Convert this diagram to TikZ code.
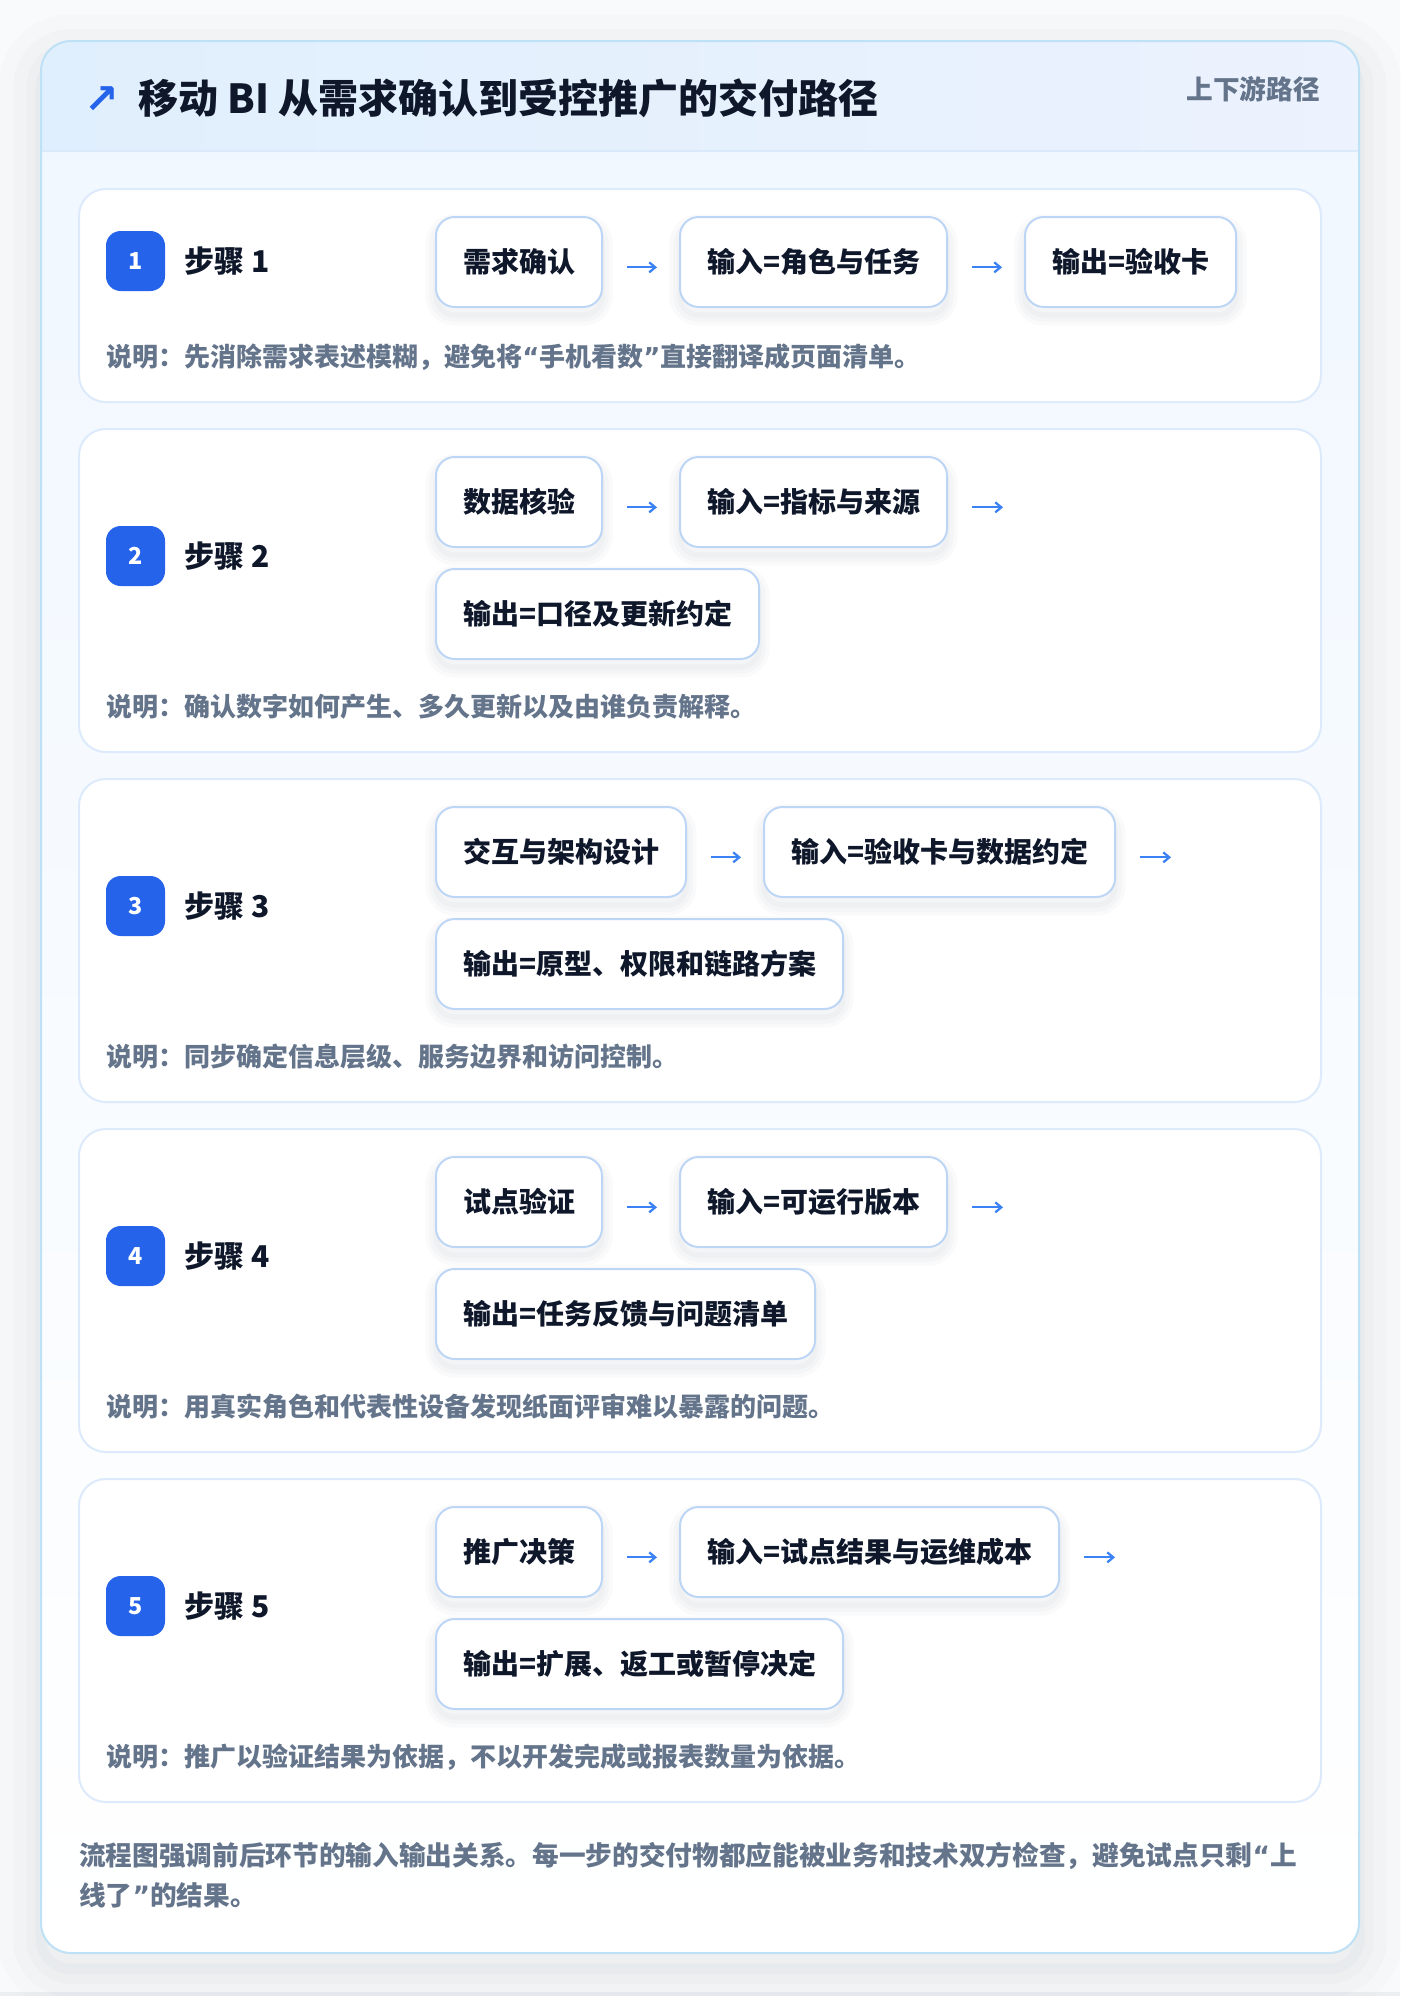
\documentclass[tikz,border=0pt]{standalone}
\usepackage{fontspec}
\setmainfont{Noto Sans CJK SC}
\newfontfamily\arrowfont{DejaVu Sans}
\usetikzlibrary{positioning,arrows.meta}

\definecolor{pagebg}{HTML}{F9FAFB}
\definecolor{stripc}{HTML}{ECEEF2}
\definecolor{cardline}{HTML}{BEE1F6}
\definecolor{bodytop}{HTML}{F0F7FF}
\definecolor{headleft}{HTML}{E0EFFD}
\definecolor{headright}{HTML}{ECF2FE}
\definecolor{headline}{HTML}{DAEAFB}
\definecolor{stepline}{HTML}{DCEAFB}
\definecolor{boxline}{HTML}{BED6F5}
\definecolor{badgec}{HTML}{2563EB}
\definecolor{arrowc}{HTML}{3B82F6}
\definecolor{inkc}{HTML}{0F172A}
\definecolor{mutedc}{HTML}{64748B}
\definecolor{shadowc}{HTML}{1E293B}

\newcommand{\q}[1]{{\arrowfont #1}}

\tikzset{
  boxshadow/.style={
    preaction={draw=shadowc, fill=none, draw opacity=0.018, line width=16pt, transform canvas={yshift=-6pt}},
    preaction={draw=shadowc, fill=none, draw opacity=0.022, line width=10pt, transform canvas={yshift=-6pt}},
    preaction={draw=shadowc, fill=none, draw opacity=0.025, line width=4pt, transform canvas={yshift=-6pt}}},
  cardshadow/.style={
    preaction={draw=shadowc, fill=none, draw opacity=0.012, line width=64pt, transform canvas={yshift=-12pt}},
    preaction={draw=shadowc, fill=none, draw opacity=0.016, line width=42pt, transform canvas={yshift=-12pt}},
    preaction={draw=shadowc, fill=none, draw opacity=0.02, line width=22pt, transform canvas={yshift=-12pt}},
    preaction={draw=shadowc, fill=none, draw opacity=0.02, line width=8pt, transform canvas={yshift=-12pt}}},
  stepcard/.style={draw=stepline, line width=1.5pt, fill=white, rounded corners=20pt},
  flowbox/.style={boxshadow, draw=boxline, line width=1.5pt, fill=white, rounded corners=14pt,
    minimum height=67.5pt, inner xsep=20.25pt, inner ysep=0pt, text=inkc,
    font=\fontsize{21pt}{25pt}\selectfont\bfseries},
  flowarrow/.style={draw=arrowc, line width=1.7pt, -{Straight Barb[length=4.5pt,width=7.5pt]},
    shorten <=18pt, shorten >=16.5pt},
  badge/.style={fill=badgec, rounded corners=11pt, minimum width=44.25pt, minimum height=45pt,
    inner sep=0pt, text=white, font=\fontsize{17.5pt}{21pt}\selectfont\bfseries},
  steptitle/.style={inner sep=0pt, text=inkc, font=\fontsize{22.5pt}{27pt}\selectfont\bfseries},
  note/.style={anchor=west, inner sep=0pt, text=mutedc, font=\fontsize{19.5pt}{24pt}\selectfont\bfseries},
}

\begin{document}
\begin{tikzpicture}[x=0.75pt,y=-0.75pt]
        \useasboundingbox (0,0) rectangle (1400,1996);

        % page
        \fill[pagebg] (0,0) rectangle (1400,1996);
        \fill[stripc] (0,1992) rectangle (1400,1996);

        % card
        \fill[white, rounded corners=22.5pt, cardshadow] (41,41) rectangle (1359,1953);
        \shade[top color=bodytop, bottom color=white, rounded corners=22.5pt] (41,41) rectangle (1359,1953);
        \begin{scope}
            \clip[rounded corners=22.5pt] (41,41) rectangle (1359,1953);
            \shade[left color=headleft, right color=headright] (41,41) rectangle (1359,151);
        \end{scope}
        \draw[headline, line width=1.5pt] (41,151) -- (1359,151);
        \draw[cardline, line width=1.5pt, rounded corners=22.5pt] (41,41) rectangle (1359,1953);

        % header
        \node[text=badgec, font=\arrowfont\fontsize{31pt}{36pt}\selectfont\bfseries] (icon) at (102,100) {↗};
        \node[anchor=west, inner sep=0pt, text=inkc, font=\fontsize{30pt}{36pt}\selectfont\bfseries] (title) at (138,98) {移动 BI 从需求确认到受控推广的交付路径};
        \node[anchor=east, inner sep=0pt, text=mutedc, font=\fontsize{20pt}{24pt}\selectfont\bfseries] (tag) at (1320,89) {上下游路径};

        % step 1
        \draw[stepcard] (79,189) rectangle (1321,402);
        \node[badge] (n1) at (135.5,261) {1};
        \node[steptitle, right=14.25pt of n1] (t1) {步骤 1};
        \node[flowbox, anchor=north west] (a1) at (435,216) {需求确认};
        \node[flowbox, right=57pt of a1] (b1) {输入=角色与任务};
        \node[flowbox, right=57pt of b1] (c1) {输出=验收卡};
        \draw[flowarrow] ([yshift=-4pt]a1.east) -- ([yshift=-4pt]b1.west);
        \draw[flowarrow] ([yshift=-4pt]b1.east) -- ([yshift=-4pt]c1.west);
        \node[note] (d1) at (106,357) {说明：先消除需求表述模糊，避免将\q{“}手机看数\q{”}直接翻译成页面清单。};

        % step 2
        \draw[stepcard] (79,429) rectangle (1321,752);
        \node[badge] (n2) at (135.5,556) {2};
        \node[steptitle, right=14.25pt of n2] (t2) {步骤 2};
        \node[flowbox, anchor=north west] (a2) at (435,456) {数据核验};
        \node[flowbox, right=57pt of a2] (b2) {输入=指标与来源};
        \coordinate[right=41.25pt of b2] (e2);
        \node[flowbox, below right=15pt and 0pt of a2.south west] (c2) {输出=口径及更新约定};
        \draw[flowarrow] ([yshift=-4pt]a2.east) -- ([yshift=-4pt]b2.west);
        \draw[flowarrow, shorten >=0pt] ([yshift=-4pt]b2.east) -- ([yshift=-4pt]e2);
        \node[note] (d2) at (106,707) {说明：确认数字如何产生、多久更新以及由谁负责解释。};

        % step 3
        \draw[stepcard] (79,779) rectangle (1321,1102);
        \node[badge] (n3) at (135.5,906) {3};
        \node[steptitle, right=14.25pt of n3] (t3) {步骤 3};
        \node[flowbox, anchor=north west] (a3) at (435,806) {交互与架构设计};
        \node[flowbox, right=57pt of a3] (b3) {输入=验收卡与数据约定};
        \coordinate[right=41.25pt of b3] (e3);
        \node[flowbox, below right=15pt and 0pt of a3.south west] (c3) {输出=原型、权限和链路方案};
        \draw[flowarrow] ([yshift=-4pt]a3.east) -- ([yshift=-4pt]b3.west);
        \draw[flowarrow, shorten >=0pt] ([yshift=-4pt]b3.east) -- ([yshift=-4pt]e3);
        \node[note] (d3) at (106,1057) {说明：同步确定信息层级、服务边界和访问控制。};

        % step 4
        \draw[stepcard] (79,1129) rectangle (1321,1452);
        \node[badge] (n4) at (135.5,1256) {4};
        \node[steptitle, right=14.25pt of n4] (t4) {步骤 4};
        \node[flowbox, anchor=north west] (a4) at (435,1156) {试点验证};
        \node[flowbox, right=57pt of a4] (b4) {输入=可运行版本};
        \coordinate[right=41.25pt of b4] (e4);
        \node[flowbox, below right=15pt and 0pt of a4.south west] (c4) {输出=任务反馈与问题清单};
        \draw[flowarrow] ([yshift=-4pt]a4.east) -- ([yshift=-4pt]b4.west);
        \draw[flowarrow, shorten >=0pt] ([yshift=-4pt]b4.east) -- ([yshift=-4pt]e4);
        \node[note] (d4) at (106,1407) {说明：用真实角色和代表性设备发现纸面评审难以暴露的问题。};

        % step 5
        \draw[stepcard] (79,1479) rectangle (1321,1802);
        \node[badge] (n5) at (135.5,1606) {5};
        \node[steptitle, right=14.25pt of n5] (t5) {步骤 5};
        \node[flowbox, anchor=north west] (a5) at (435,1506) {推广决策};
        \node[flowbox, right=57pt of a5] (b5) {输入=试点结果与运维成本};
        \coordinate[right=41.25pt of b5] (e5);
        \node[flowbox, below right=15pt and 0pt of a5.south west] (c5) {输出=扩展、返工或暂停决定};
        \draw[flowarrow] ([yshift=-4pt]a5.east) -- ([yshift=-4pt]b5.west);
        \draw[flowarrow, shorten >=0pt] ([yshift=-4pt]b5.east) -- ([yshift=-4pt]e5);
        \node[note] (d5) at (106,1757) {说明：推广以验证结果为依据，不以开发完成或报表数量为依据。};

        % footer
        \node[anchor=west, align=left, inner sep=0pt, text=mutedc, font=\fontsize{20pt}{30pt}\selectfont\bfseries] (foot) at (79,1875) {流程图强调前后环节的输入输出关系。每一步的交付物都应能被业务和技术双方检查，避免试点只剩\q{“}上\\线了\q{”}的结果。};
\end{tikzpicture}
\end{document}
